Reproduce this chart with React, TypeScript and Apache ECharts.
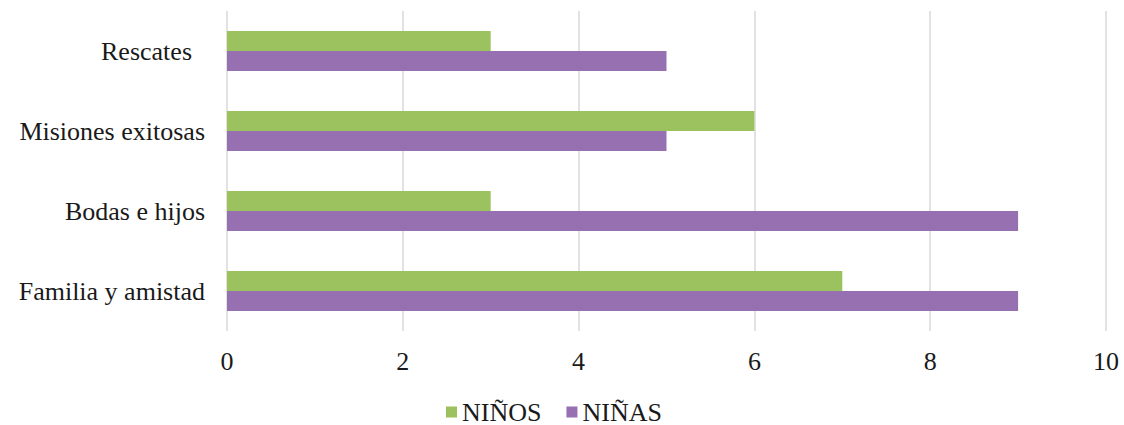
import React, { useEffect, useRef } from "react";
import * as echarts from "echarts";

// Categories listed bottom to top (category y axis grows upward)
const categories = ["Familia y amistad", "Bodas e hijos", "Misiones exitosas", "Rescates"];
const ninos = [7, 3, 6, 3];
const ninas = [9, 9, 5, 5];
const xTicks = [0, 2, 4, 6, 8, 10];

const FONT = "Liberation Serif";
const FONT_SIZE = 26;

export default function App() {
  const ref = useRef<HTMLDivElement>(null);

  useEffect(() => {
    if (!ref.current) return;
    const chart = echarts.init(ref.current, undefined, { renderer: "svg" });
    chart.setOption({
      animation: false,
      backgroundColor: "#ffffff",
      textStyle: { fontFamily: FONT },
      grid: { left: 227, right: 18, top: 11, bottom: 94, containLabel: false },
      legend: {
        bottom: 0,
        left: 446,
        padding: 0,
        icon: "rect",
        itemWidth: 11,
        itemHeight: 11,
        itemGap: 25,
        textStyle: { fontFamily: FONT, fontSize: FONT_SIZE, color: "#1a1a1a" },
        data: ["NIÑOS", "NIÑAS"],
      },
      xAxis: {
        type: "value",
        min: xTicks[0],
        max: xTicks[xTicks.length - 1],
        interval: 2,
        axisLine: { show: false },
        axisTick: { show: false },
        splitLine: { show: true, lineStyle: { color: "#d9d9d9", width: 1.5 } },
        axisLabel: { fontFamily: FONT, fontSize: FONT_SIZE, color: "#1a1a1a", margin: 17 },
      },
      yAxis: {
        type: "category",
        data: categories,
        axisLine: { show: false },
        axisTick: { show: false },
        axisLabel: {
          fontFamily: FONT,
          fontSize: FONT_SIZE,
          color: "#1a1a1a",
          margin: 22,
          formatter: (v: string) => (v === "Rescates" ? v + "\u00A0\u00A0" : v),
        },
      },
      series: [
        {
          name: "NIÑOS",
          type: "bar",
          data: ninos,
          itemStyle: { color: "#9bc25e" },
          barGap: "0%",
          barCategoryGap: "50%",
        },
        {
          name: "NIÑAS",
          type: "bar",
          data: ninas,
          itemStyle: { color: "#9670b0" },
          barGap: "0%",
          barCategoryGap: "50%",
        },
      ],
    });
    return () => chart.dispose();
  }, []);

  return (
    <div
      ref={ref}
      style={{ position: "fixed", left: 0, top: 0, width: 1124, height: 425, background: "#fff" }}
    />
  );
}
